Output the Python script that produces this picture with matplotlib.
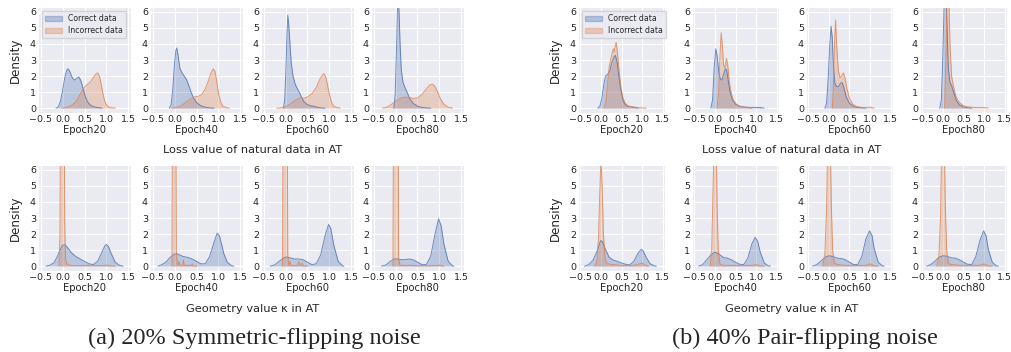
import matplotlib
matplotlib.use("Agg")
import matplotlib.pyplot as plt
import seaborn as sns
from matplotlib.patches import Patch

W, H = 1012, 352
BLUE = "#4C72B0"
ORANGE = "#DD8452"

epochs = [20, 40, 60, 80]
legend_labels = ["Correct data", "Incorrect data"]
row_titles = ["Loss value of natural data in AT", "Geometry value \u03ba in AT"]
captions = ["(a) 20% Symmetric-flipping noise", "(b) 40% Pair-flipping noise"]

# (x, density) points
# --- (a) symmetric flipping, loss of natural data
sym_loss_ok_20 = [(-0.15, 0), (-0.1, 0.08), (-0.05, 0.4), (0, 1.1), (0.05, 1.9), (0.1, 2.4), (0.13, 2.45),
                  (0.17, 2.25), (0.22, 1.9), (0.27, 1.75), (0.32, 1.85), (0.37, 1.95), (0.42, 1.7), (0.47, 1.2),
                  (0.52, 0.7), (0.57, 0.4), (0.62, 0.22), (0.7, 0.1), (0.8, 0.04), (0.9, 0)]
sym_loss_bad_20 = [(0.0, 0), (0.1, 0.05), (0.2, 0.15), (0.3, 0.4), (0.4, 0.85), (0.45, 1.1), (0.5, 1.3),
                   (0.55, 1.45), (0.6, 1.55), (0.65, 1.7), (0.7, 1.9), (0.75, 2.1), (0.8, 2.2), (0.84, 2.0),
                   (0.88, 1.5), (0.92, 0.9), (0.96, 0.45), (1.0, 0.2), (1.05, 0.08), (1.1, 0.03), (1.2, 0)]
sym_loss_ok_40 = [(-0.12, 0), (-0.08, 0.2), (-0.04, 1.2), (0.0, 2.8), (0.03, 3.6), (0.05, 3.75), (0.08, 3.3),
                  (0.12, 2.5), (0.17, 2.2), (0.22, 2.0), (0.27, 1.8), (0.32, 1.45), (0.37, 1.05), (0.42, 0.7),
                  (0.5, 0.35), (0.6, 0.15), (0.7, 0.06), (0.8, 0.02), (0.9, 0)]
sym_loss_bad_40 = [(-0.05, 0), (0.05, 0.05), (0.15, 0.15), (0.25, 0.35), (0.35, 0.55), (0.45, 0.7), (0.55, 0.75),
                   (0.62, 0.85), (0.7, 1.2), (0.77, 1.7), (0.83, 2.2), (0.88, 2.45), (0.92, 2.3), (0.96, 1.7),
                   (1.0, 0.95), (1.05, 0.4), (1.1, 0.12), (1.2, 0.02), (1.25, 0)]
sym_loss_ok_60 = [(-0.05, 0), (-0.02, 0.5), (0.01, 2.5), (0.03, 4.5), (0.05, 5.8), (0.07, 5.3), (0.1, 4.0),
                  (0.13, 2.8), (0.17, 2.0), (0.22, 1.5), (0.27, 1.2), (0.32, 0.95), (0.37, 0.65), (0.42, 0.4),
                  (0.5, 0.22), (0.6, 0.13), (0.65, 0.12), (0.7, 0.07), (0.8, 0.02), (0.9, 0)]
sym_loss_bad_60 = [(-0.2, 0), (-0.1, 0.02), (0.0, 0.1), (0.1, 0.25), (0.2, 0.45), (0.3, 0.6), (0.35, 0.65),
                   (0.42, 0.62), (0.5, 0.7), (0.6, 0.9), (0.7, 1.3), (0.78, 1.8), (0.85, 2.1), (0.88, 2.15),
                   (0.92, 1.9), (0.96, 1.4), (1.0, 0.85), (1.05, 0.35), (1.1, 0.12), (1.2, 0.02), (1.25, 0)]
sym_loss_ok_80 = [(-0.04, 0), (-0.01, 0.8), (0.02, 3.5), (0.04, 6.0), (0.06, 6.8), (0.08, 6.0), (0.1, 4.2),
                  (0.13, 2.4), (0.17, 1.6), (0.22, 1.25), (0.27, 0.95), (0.32, 0.6), (0.4, 0.3), (0.5, 0.12),
                  (0.6, 0.05), (0.7, 0.02), (0.8, 0)]
sym_loss_bad_80 = [(-0.3, 0), (-0.2, 0.06), (-0.1, 0.22), (0.0, 0.45), (0.1, 0.6), (0.2, 0.68), (0.3, 0.68),
                   (0.4, 0.6), (0.5, 0.65), (0.6, 0.85), (0.7, 1.2), (0.78, 1.45), (0.84, 1.5), (0.9, 1.35),
                   (0.96, 1.0), (1.02, 0.6), (1.1, 0.25), (1.2, 0.06), (1.3, 0)]

# --- (a) symmetric flipping, geometry value kappa
sym_kappa_ok_20 = [(-0.38, 0), (-0.3, 0.05), (-0.2, 0.2), (-0.12, 0.6), (-0.05, 1.05), (0.0, 1.3), (0.05, 1.35),
                   (0.1, 1.2), (0.2, 0.85), (0.3, 0.6), (0.4, 0.45), (0.5, 0.3), (0.6, 0.15), (0.7, 0.1),
                   (0.8, 0.3), (0.9, 0.9), (0.97, 1.3), (1.0, 1.35), (1.05, 1.2), (1.1, 0.85), (1.2, 0.25),
                   (1.3, 0.05), (1.38, 0)]
sym_kappa_bad_20 = [(-0.08, 0), (-0.06, 2.0), (-0.05, 8), (0.04, 8), (0.05, 2.5), (0.07, 0.4), (0.1, 0.15),
                    (0.15, 0.08), (0.2, 0.05), (0.4, 0.04), (0.55, 0.06), (0.7, 0.05), (0.9, 0.04), (1.0, 0.06),
                    (1.1, 0.02), (1.2, 0)]
sym_kappa_ok_40 = [(-0.38, 0), (-0.3, 0.08), (-0.2, 0.25), (-0.1, 0.55), (0.0, 0.75), (0.05, 0.78), (0.1, 0.72),
                   (0.2, 0.6), (0.3, 0.55), (0.4, 0.45), (0.5, 0.3), (0.6, 0.15), (0.7, 0.15), (0.8, 0.6),
                   (0.9, 1.5), (0.97, 2.05), (1.02, 1.9), (1.07, 1.4), (1.12, 0.8), (1.2, 0.25), (1.3, 0.03),
                   (1.35, 0)]
sym_kappa_bad_40 = [(-0.06, 0), (-0.05, 8), (0.03, 8), (0.04, 1.0), (0.06, 0.08), (0.08, 0.1), (0.1, 0.3),
                    (0.12, 0.05), (0.18, 0.05), (0.2, 0.4), (0.22, 0.05), (0.38, 0.05), (0.4, 0.15),
                    (0.42, 0.02), (0.5, 0)]
sym_kappa_ok_60 = [(-0.35, 0), (-0.25, 0.08), (-0.15, 0.3), (-0.05, 0.5), (0.02, 0.58), (0.1, 0.52), (0.2, 0.45),
                   (0.3, 0.45), (0.4, 0.4), (0.5, 0.25), (0.6, 0.1), (0.7, 0.15), (0.8, 0.7), (0.9, 1.9),
                   (0.98, 2.6), (1.03, 2.35), (1.1, 1.3), (1.2, 0.3), (1.3, 0.02), (1.33, 0)]
sym_kappa_bad_60 = [(-0.07, 0), (-0.06, 8), (0.04, 8), (0.05, 0.8), (0.07, 0.05), (0.1, 0.3), (0.12, 0.05),
                    (0.28, 0.05), (0.3, 0.3), (0.32, 0.05), (0.36, 0.05), (0.38, 0.2), (0.4, 0.02), (0.5, 0)]
sym_kappa_ok_80 = [(-0.32, 0), (-0.22, 0.08), (-0.12, 0.3), (-0.03, 0.45), (0.05, 0.45), (0.15, 0.4),
                   (0.25, 0.42), (0.32, 0.45), (0.42, 0.38), (0.5, 0.25), (0.6, 0.1), (0.7, 0.1), (0.8, 0.6),
                   (0.9, 2.0), (0.98, 2.95), (1.04, 2.5), (1.1, 1.4), (1.2, 0.3), (1.3, 0.02), (1.33, 0)]
sym_kappa_bad_80 = [(-0.06, 0), (-0.05, 8), (0.06, 8), (0.07, 0.5), (0.1, 0.05), (0.2, 0.06), (0.25, 0.04),
                    (0.3, 0.06), (0.5, 0.03), (0.8, 0.03), (0.97, 0.05), (1.0, 0.08), (1.03, 0.04), (1.1, 0)]

# --- (b) pair flipping, loss of natural data
pair_loss_ok_20 = [(-0.08, 0), (-0.03, 0.1), (0.02, 0.6), (0.07, 1.5), (0.11, 2.0), (0.16, 2.1), (0.21, 2.3),
                   (0.26, 2.8), (0.31, 3.15), (0.35, 3.3), (0.39, 2.9), (0.43, 2.1), (0.48, 1.2), (0.53, 0.55),
                   (0.58, 0.25), (0.65, 0.12), (0.72, 0.1), (0.8, 0.06), (0.9, 0)]
pair_loss_bad_20 = [(0.08, 0), (0.12, 0.4), (0.16, 1.5), (0.2, 2.6), (0.24, 3.1), (0.28, 3.5), (0.3, 3.7),
                    (0.32, 3.5), (0.35, 3.9), (0.37, 4.1), (0.4, 3.5), (0.44, 2.4), (0.48, 1.4), (0.53, 0.7),
                    (0.58, 0.35), (0.65, 0.15), (0.75, 0.08), (0.9, 0.04), (1.0, 0.02), (1.1, 0)]
pair_loss_ok_40 = [(-0.1, 0), (-0.06, 0.5), (-0.02, 2.5), (0.02, 3.7), (0.05, 3.3), (0.09, 2.3), (0.13, 1.8),
                   (0.17, 1.75), (0.21, 2.1), (0.25, 2.45), (0.28, 2.4), (0.32, 1.8), (0.36, 1.1), (0.42, 0.55),
                   (0.5, 0.25), (0.6, 0.12), (0.7, 0.08), (0.85, 0.05), (1.0, 0.05), (1.1, 0.04), (1.2, 0)]
pair_loss_bad_40 = [(0.05, 0), (0.09, 1.0), (0.12, 3.2), (0.15, 4.7), (0.18, 3.9), (0.21, 2.7), (0.24, 2.5),
                    (0.28, 3.1), (0.31, 2.7), (0.35, 1.6), (0.4, 0.9), (0.45, 0.5), (0.52, 0.25), (0.6, 0.12),
                    (0.7, 0.07), (0.8, 0.03), (0.9, 0)]
pair_loss_ok_60 = [(-0.1, 0), (-0.06, 0.3), (-0.02, 1.8), (0.02, 4.0), (0.05, 5.1), (0.08, 4.4), (0.11, 2.6),
                   (0.14, 1.6), (0.18, 1.35), (0.23, 1.35), (0.28, 1.55), (0.32, 1.6), (0.36, 1.3), (0.42, 0.7),
                   (0.5, 0.3), (0.6, 0.1), (0.7, 0.05), (0.8, 0.02), (0.9, 0)]
pair_loss_bad_60 = [(0.08, 0), (0.11, 1.5), (0.14, 4.5), (0.16, 5.5), (0.19, 3.8), (0.23, 2.3), (0.27, 1.9),
                    (0.31, 2.0), (0.35, 2.2), (0.39, 1.9), (0.44, 1.2), (0.5, 0.6), (0.58, 0.25), (0.68, 0.1),
                    (0.8, 0.05), (0.95, 0.05), (1.02, 0.06), (1.1, 0)]
pair_loss_ok_80 = [(-0.08, 0), (-0.04, 0.5), (0.0, 3.5), (0.03, 7.0), (0.07, 7.5), (0.1, 5.0), (0.13, 2.5),
                   (0.17, 1.6), (0.21, 1.4), (0.26, 1.0), (0.32, 0.5), (0.4, 0.2), (0.5, 0.08), (0.6, 0.03),
                   (0.7, 0)]
pair_loss_bad_80 = [(0.04, 0), (0.07, 3.0), (0.1, 7.0), (0.14, 7.5), (0.17, 4.0), (0.21, 2.0), (0.26, 1.3),
                    (0.32, 0.7), (0.4, 0.35), (0.5, 0.15), (0.6, 0.08), (0.7, 0.07), (0.8, 0.04), (0.95, 0.04),
                    (1.05, 0.03), (1.1, 0)]

# --- (b) pair flipping, geometry value kappa
pair_kappa_ok_20 = [(-0.4, 0), (-0.3, 0.1), (-0.2, 0.35), (-0.1, 0.9), (-0.03, 1.45), (0.0, 1.6), (0.04, 1.5),
                    (0.1, 1.1), (0.2, 0.55), (0.3, 0.38), (0.4, 0.3), (0.5, 0.2), (0.6, 0.12), (0.7, 0.08),
                    (0.8, 0.3), (0.9, 0.8), (0.98, 1.05), (1.03, 0.95), (1.1, 0.55), (1.2, 0.15), (1.3, 0.02),
                    (1.35, 0)]
pair_kappa_bad_20 = [(-0.15, 0), (-0.1, 0.3), (-0.06, 1.8), (-0.03, 4.5), (0.0, 6.8), (0.03, 4.8), (0.06, 2.0),
                     (0.1, 0.5), (0.15, 0.15), (0.3, 0.1), (0.5, 0.05), (0.8, 0.05), (0.95, 0.15), (1.0, 0.2),
                     (1.05, 0.1), (1.15, 0)]
pair_kappa_ok_40 = [(-0.4, 0), (-0.3, 0.1), (-0.2, 0.4), (-0.1, 0.7), (0.0, 0.88), (0.1, 0.75), (0.2, 0.55),
                    (0.3, 0.5), (0.4, 0.4), (0.5, 0.25), (0.6, 0.12), (0.7, 0.1), (0.8, 0.5), (0.9, 1.4),
                    (0.98, 1.8), (1.04, 1.55), (1.1, 0.9), (1.2, 0.2), (1.3, 0.02), (1.35, 0)]
pair_kappa_bad_40 = [(-0.12, 0), (-0.08, 1.0), (-0.05, 4.5), (-0.02, 8), (0.03, 8), (0.05, 4.0), (0.08, 1.0),
                     (0.12, 0.15), (0.2, 0.05), (0.5, 0.05), (0.9, 0.05), (1.0, 0.1), (1.1, 0.02), (1.2, 0)]
pair_kappa_ok_60 = [(-0.4, 0), (-0.3, 0.1), (-0.2, 0.3), (-0.1, 0.55), (0.0, 0.65), (0.1, 0.6), (0.2, 0.5),
                    (0.3, 0.48), (0.4, 0.4), (0.5, 0.25), (0.6, 0.1), (0.7, 0.1), (0.8, 0.6), (0.9, 1.7),
                    (0.99, 2.2), (1.05, 1.9), (1.1, 1.1), (1.2, 0.25), (1.3, 0.02), (1.35, 0)]
pair_kappa_bad_60 = [(-0.15, 0), (-0.1, 0.8), (-0.06, 3.5), (-0.03, 8), (0.03, 8), (0.06, 3.5), (0.09, 1.0),
                     (0.13, 0.2), (0.2, 0.1), (0.4, 0.05), (0.6, 0.05), (0.9, 0.05), (1.0, 0.15), (1.1, 0.02),
                     (1.2, 0)]
pair_kappa_ok_80 = [(-0.4, 0), (-0.3, 0.1), (-0.2, 0.3), (-0.1, 0.55), (0.0, 0.65), (0.1, 0.62), (0.2, 0.52),
                    (0.3, 0.5), (0.4, 0.4), (0.5, 0.25), (0.6, 0.12), (0.7, 0.1), (0.8, 0.6), (0.9, 1.6),
                    (0.99, 2.2), (1.05, 1.9), (1.1, 1.1), (1.2, 0.25), (1.3, 0.02), (1.35, 0)]
pair_kappa_bad_80 = [(-0.15, 0), (-0.1, 0.6), (-0.06, 3.0), (-0.03, 8), (0.03, 8), (0.06, 3.5), (0.09, 1.0),
                     (0.13, 0.2), (0.2, 0.1), (0.4, 0.06), (0.6, 0.05), (0.9, 0.05), (1.0, 0.15), (1.1, 0.02),
                     (1.2, 0)]

sym_loss = [(sym_loss_ok_20, sym_loss_bad_20), (sym_loss_ok_40, sym_loss_bad_40),
            (sym_loss_ok_60, sym_loss_bad_60), (sym_loss_ok_80, sym_loss_bad_80)]
sym_kappa = [(sym_kappa_ok_20, sym_kappa_bad_20), (sym_kappa_ok_40, sym_kappa_bad_40),
             (sym_kappa_ok_60, sym_kappa_bad_60), (sym_kappa_ok_80, sym_kappa_bad_80)]
pair_loss = [(pair_loss_ok_20, pair_loss_bad_20), (pair_loss_ok_40, pair_loss_bad_40),
             (pair_loss_ok_60, pair_loss_bad_60), (pair_loss_ok_80, pair_loss_bad_80)]
pair_kappa = [(pair_kappa_ok_20, pair_kappa_bad_20), (pair_kappa_ok_40, pair_kappa_bad_40),
              (pair_kappa_ok_60, pair_kappa_bad_60), (pair_kappa_ok_80, pair_kappa_bad_80)]

# layout in pixels
GROUP_LEFTS = [[38, 150, 261, 371], [578, 692, 806, 920]]
GROUP_WIDTHS = [93, 87]
ROW_TOPS = [7, 165]
AX_H = 106


def px_axes(fig, left, top, width, height):
    return fig.add_axes([left / W, 1 - (top + height) / H, width / W, height / H])


def draw_density(ax, points, color):
    xs = [p[0] for p in points]
    ys = [p[1] for p in points]
    ax.fill_between(xs, ys, 0, color=color, alpha=0.3, lw=0)
    ax.plot(xs, ys, color=color, lw=0.7, alpha=0.8)


def draw_group(fig, g, rows):
    for r, panels in enumerate(rows):
        for i, (ok, bad) in enumerate(panels):
            ax = px_axes(fig, GROUP_LEFTS[g][i], ROW_TOPS[r], GROUP_WIDTHS[g], AX_H)
            draw_density(ax, ok, BLUE)
            draw_density(ax, bad, ORANGE)
            ax.set_xlim(-0.56, 1.56)
            ax.set_ylim(-0.3, 6.3)
            ax.set_xticks([-0.5, 0.0, 0.5, 1.0, 1.5])
            ax.set_yticks(range(7))
            ax.tick_params(labelsize=6.8, pad=1.5, length=0)
            ax.set_xlabel("Epoch%d" % epochs[i], fontsize=7.2, labelpad=1)
            if i == 0:
                ax.set_ylabel("Density", fontsize=8.6, labelpad=6)
                if r == 0:
                    handles = [Patch(facecolor=c, alpha=0.35, edgecolor=c) for c in (BLUE, ORANGE)]
                    ax.legend(handles, legend_labels, loc="upper left", fontsize=5.6,
                              handlelength=2.2, borderpad=0.4, labelspacing=0.4, framealpha=0.8)


if __name__ == '__main__':
    sns.set_style("darkgrid")
    fig = plt.figure(figsize=(W / 100, H / 100), dpi=100)

    draw_group(fig, 0, [sym_loss, sym_kappa])
    draw_group(fig, 1, [pair_loss, pair_kappa])

    centers = [253 / W, 792 / W]
    for g in range(2):
        fig.text(centers[g], 1 - 150 / H, row_titles[0], ha="center", va="center", fontsize=8.2)
        fig.text(centers[g], 1 - 309 / H, row_titles[1], ha="center", va="center", fontsize=8.2)
        fig.text([254 / W, 805 / W][g], 1 - 338 / H, captions[g], ha="center", va="center",
                 fontsize=17.5, family="Liberation Serif")

    fig.savefig("out.png", dpi=100)
